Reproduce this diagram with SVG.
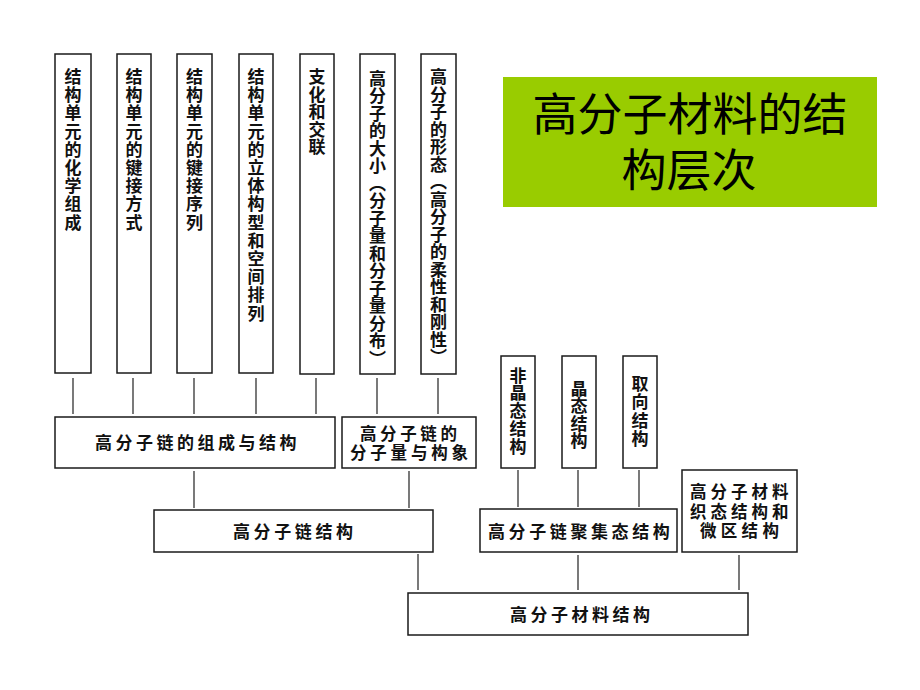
<svg xmlns="http://www.w3.org/2000/svg" width="920" height="690" viewBox="0 0 920 690">
<style>
.box{fill:#fff;stroke:#1a1a1a;stroke-width:1.5}
.t{font-family:"Noto Sans CJK SC","Noto Sans",sans-serif;font-size:17px;font-weight:700;fill:#111}
.s{font-size:16.5px}
.v{text-anchor:middle}
.ln{stroke:#333;stroke-width:1.3;fill:none}
.title{font-family:"Noto Sans CJK SC","Noto Sans",sans-serif;font-size:45px;fill:#000;text-anchor:middle}
</style>
<rect width="920" height="690" fill="#fff"/>
<g id="title">
<rect x="503" y="77" width="374" height="130" fill="#99cc00"/>
<text class="title" x="690" y="131">高分子材料的结</text>
<text class="title" x="689" y="187">构层次</text>
</g>
<g id="connectors">
<path class="ln" d="M73 378V414M133 378V414M194 378V414M256 378V414M316 378V414M377 378V414M438 378V414"/>
<path class="ln" d="M194 471V508M409 471V508M418 554V590"/>
<path class="ln" d="M518 470V507M578 470V507M639 470V507M578 555V590M739 555V590"/>
</g>
<g id="n1"><rect class="box" x="55" y="54" width="36" height="319"/>
<text class="t v"><tspan x="73" y="83">结</tspan><tspan x="73" y="101.2">构</tspan><tspan x="73" y="119.4">单</tspan><tspan x="73" y="137.6">元</tspan><tspan x="73" y="155.8">的</tspan><tspan x="73" y="174">化</tspan><tspan x="73" y="192.2">学</tspan><tspan x="73" y="210.4">组</tspan><tspan x="73" y="228.6">成</tspan></text></g>
<g id="n2"><rect class="box" x="117" y="54" width="34" height="319"/>
<text class="t v"><tspan x="134" y="83">结</tspan><tspan x="134" y="101.2">构</tspan><tspan x="134" y="119.4">单</tspan><tspan x="134" y="137.6">元</tspan><tspan x="134" y="155.8">的</tspan><tspan x="134" y="174">键</tspan><tspan x="134" y="192.2">接</tspan><tspan x="134" y="210.4">方</tspan><tspan x="134" y="228.6">式</tspan></text></g>
<g id="n3"><rect class="box" x="177" y="54" width="35" height="319"/>
<text class="t v"><tspan x="194.5" y="83">结</tspan><tspan x="194.5" y="101.2">构</tspan><tspan x="194.5" y="119.4">单</tspan><tspan x="194.5" y="137.6">元</tspan><tspan x="194.5" y="155.8">的</tspan><tspan x="194.5" y="174">键</tspan><tspan x="194.5" y="192.2">接</tspan><tspan x="194.5" y="210.4">序</tspan><tspan x="194.5" y="228.6">列</tspan></text></g>
<g id="n4"><rect class="box" x="239" y="54" width="34" height="319"/>
<text class="t v"><tspan x="256" y="83">结</tspan><tspan x="256" y="101.2">构</tspan><tspan x="256" y="119.4">单</tspan><tspan x="256" y="137.6">元</tspan><tspan x="256" y="155.8">的</tspan><tspan x="256" y="174">立</tspan><tspan x="256" y="192.2">体</tspan><tspan x="256" y="210.4">构</tspan><tspan x="256" y="228.6">型</tspan><tspan x="256" y="246.8">和</tspan><tspan x="256" y="265">空</tspan><tspan x="256" y="283.2">间</tspan><tspan x="256" y="301.4">排</tspan><tspan x="256" y="319.6">列</tspan></text></g>
<g id="n5"><rect class="box" x="300" y="54" width="34" height="320"/>
<text class="t v"><tspan x="317" y="83">支</tspan><tspan x="317" y="100.5">化</tspan><tspan x="317" y="118">和</tspan><tspan x="317" y="135.5">交</tspan><tspan x="317" y="153">联</tspan></text></g>
<g id="n6"><rect class="box" x="360" y="54" width="35" height="320"/>
<text class="t v"><tspan x="377.5" y="84.5">高</tspan><tspan x="377.5" y="102">分</tspan><tspan x="377.5" y="119.5">子</tspan><tspan x="377.5" y="137">的</tspan><tspan x="377.5" y="154.5">大</tspan><tspan x="377.5" y="172">小</tspan><tspan x="377.5" y="189.5">︵</tspan><tspan x="377.5" y="207">分</tspan><tspan x="377.5" y="224.5">子</tspan><tspan x="377.5" y="242">量</tspan><tspan x="377.5" y="259.5">和</tspan><tspan x="377.5" y="277">分</tspan><tspan x="377.5" y="294.5">子</tspan><tspan x="377.5" y="312">量</tspan><tspan x="377.5" y="329.5">分</tspan><tspan x="377.5" y="347">布</tspan><tspan x="377.5" y="364.5">︶</tspan></text></g>
<g id="n7"><rect class="box" x="421" y="54" width="35" height="320"/>
<text class="t v"><tspan x="438.5" y="83">高</tspan><tspan x="438.5" y="100.5">分</tspan><tspan x="438.5" y="118">子</tspan><tspan x="438.5" y="135.5">的</tspan><tspan x="438.5" y="153">形</tspan><tspan x="438.5" y="170.5">态</tspan><tspan x="438.5" y="188">︵</tspan><tspan x="438.5" y="205.5">高</tspan><tspan x="438.5" y="223">分</tspan><tspan x="438.5" y="240.5">子</tspan><tspan x="438.5" y="258">的</tspan><tspan x="438.5" y="275.5">柔</tspan><tspan x="438.5" y="293">性</tspan><tspan x="438.5" y="310.5">和</tspan><tspan x="438.5" y="328">刚</tspan><tspan x="438.5" y="345.5">性</tspan><tspan x="438.5" y="363">︶</tspan></text></g>
<g id="n8"><rect class="box" x="55" y="417" width="280" height="51"/>
<text class="t" x="95" y="449" letter-spacing="3.5">高分子链的组成与结构</text></g>
<g id="n9"><rect class="box" x="342" y="417" width="134" height="51"/>
<text class="t s" x="360" y="440" letter-spacing="3.6">高分子链的</text>
<text class="t s" x="350" y="459" letter-spacing="3.8">分子量与构象</text></g>
<g id="n10"><rect class="box" x="154" y="510" width="279" height="42"/>
<text class="t" x="233" y="538" letter-spacing="3.6">高分子链结构</text></g>
<g id="n11"><rect class="box" x="501" y="356" width="34" height="112"/>
<text class="t v"><tspan x="518" y="381.5">非</tspan><tspan x="518" y="398.5">晶</tspan><tspan x="518" y="416.5">态</tspan><tspan x="518" y="434.5">结</tspan><tspan x="518" y="453">构</tspan></text></g>
<g id="n12"><rect class="box" x="562" y="356" width="34" height="112"/>
<text class="t v"><tspan x="579" y="394.5">晶</tspan><tspan x="579" y="411.5">态</tspan><tspan x="579" y="429.5">结</tspan><tspan x="579" y="446.5">构</tspan></text></g>
<g id="n13"><rect class="box" x="623" y="356" width="34" height="112"/>
<text class="t v"><tspan x="640" y="389.5">取</tspan><tspan x="640" y="408">向</tspan><tspan x="640" y="426.5">结</tspan><tspan x="640" y="444.5">构</tspan></text></g>
<g id="n14"><rect class="box" x="480" y="509" width="197" height="43"/>
<text class="t" x="488" y="538" letter-spacing="3.6">高分子链聚集态结构</text></g>
<g id="n15"><rect class="box" x="682" y="470" width="115" height="82"/>
<text class="t s" x="690" y="498" letter-spacing="4">高分子材料</text>
<text class="t s" x="690" y="517.5" letter-spacing="4">织态结构和</text>
<text class="t s" x="700" y="537" letter-spacing="4.3">微区结构</text></g>
<g id="n16"><rect class="box" x="408" y="593" width="340" height="42"/>
<text class="t" x="510" y="621" letter-spacing="3.5">高分子材料结构</text></g>
</svg>
